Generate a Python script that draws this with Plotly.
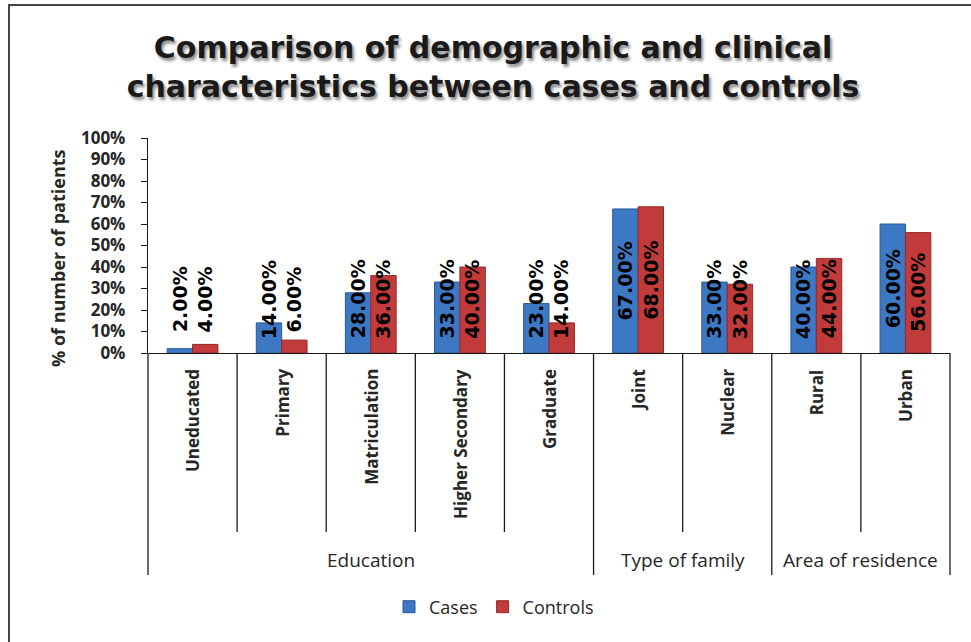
import plotly.graph_objects as go

# ---- data -------------------------------------------------------------
categories = ["Uneducated", "Primary", "Matriculation", "Higher Secondary",
              "Graduate", "Joint", "Nuclear", "Rural", "Urban"]
groups = ["Education", "Type of family", "Area of residence"]
group_sizes = [5, 2, 2]
cases = [2, 14, 28, 33, 23, 67, 33, 40, 60]
controls = [4, 6, 36, 40, 14, 68, 32, 44, 56]
y_ticks = [0, 10, 20, 30, 40, 50, 60, 70, 80, 90, 100]

# ---- layout constants --------------------------------------------------
W, H = 971, 642
ML, MR, MT, MB = 148, 21, 138, 289
PW, PH = W - ML - MR, H - MT - MB
N = len(categories)
BAR_W = 0.285
TEXT = "#262626"
LABEL_FONT = "Open Sans"


def py(px_y):
    """page pixel row -> paper y"""
    return (H - MB - px_y) / PH


def px(px_x):
    """page pixel column -> paper x"""
    return (px_x - ML) / PW


xs = list(range(N))

fig = go.Figure()
fig.add_trace(go.Bar(
    x=xs, y=cases, name="Cases", width=BAR_W, offset=-BAR_W,
    marker=dict(color="#3C78C3", line=dict(color="#2A5A96", width=1)),
))
fig.add_trace(go.Bar(
    x=xs, y=controls, name="Controls", width=BAR_W, offset=0,
    marker=dict(color="#C23B3B", line=dict(color="#962828", width=1)),
))

annotations = []

# value labels, rotated, centred on each bar but kept clear of the axis
for series, sign in ((cases, -1), (controls, 1)):
    for i, v in enumerate(series):
        annotations.append(dict(
            x=i + sign * BAR_W / 2, y=max(v / 2, 25), xref="x", yref="y",
            text=f"{v:.2f}%", textangle=-90, showarrow=False,
            xanchor="center", yanchor="middle",
            font=dict(family="DejaVu Sans", size=19, color="black", weight="bold"),
        ))

# category labels under the axis
for i, c in enumerate(categories):
    annotations.append(dict(
        x=(i + 0.5) / N, y=py(367), xref="paper", yref="paper",
        text=c, textangle=-90, showarrow=False,
        xanchor="center", yanchor="top",
        font=dict(family=LABEL_FONT, size=17, color=TEXT, weight="bold"),
    ))

# group labels and separator lines
shapes = []
start = 0
for g, n in zip(groups, group_sizes):
    annotations.append(dict(
        x=(start + n / 2) / N, y=py(560), xref="paper", yref="paper",
        text=g, showarrow=False, xanchor="center", yanchor="middle",
        font=dict(family=LABEL_FONT, size=19, color=TEXT),
    ))
    start += n

group_edges = {0}
acc = 0
for n in group_sizes:
    acc += n
    group_edges.add(acc)
for k in range(N + 1):
    y_end = py(575) if k in group_edges else py(532)
    shapes.append(dict(
        type="line", xref="paper", yref="paper",
        x0=k / N, x1=k / N, y0=0, y1=y_end,
        line=dict(color="#1a1a1a", width=1.3),
    ))

# y-axis title
annotations.append(dict(
    x=px(58), y=py(258), xref="paper", yref="paper",
    text="% of number of patients", textangle=-90, showarrow=False,
    xanchor="center", yanchor="middle",
    font=dict(family=LABEL_FONT, size=18, color=TEXT, weight="bold"),
))

# outer chart frame
shapes.append(dict(
    type="rect", xref="paper", yref="paper",
    x0=px(9), x1=px(990), y0=py(660), y1=py(5),
    line=dict(color="#444444", width=2), layer="below",
))

fig.update_layout(
    width=W, height=H,
    margin=dict(l=ML, r=MR, t=MT, b=MB),
    paper_bgcolor="white", plot_bgcolor="white",
    barmode="overlay",
    title=dict(
        text="Comparison of demographic and clinical<br>characteristics between cases and controls",
        x=493 / W, xref="container", xanchor="center",
        y=1 - 58 / H, yref="container", yanchor="middle",
        font=dict(family="DejaVu Sans", size=30, color="#1a1a1a", weight="bold",
                  shadow="2px 3px 3px rgba(0,0,0,0.45)"),
    ),
    xaxis=dict(
        range=[-0.5, N - 0.5], showticklabels=False, ticks="",
        showline=True, linecolor="#1a1a1a", linewidth=1.3,
        showgrid=False, zeroline=False, fixedrange=True,
    ),
    yaxis=dict(
        range=[0, 100], tickvals=y_ticks, ticktext=[f"{t}%" for t in y_ticks],
        ticks="outside", ticklen=6, tickcolor="#1a1a1a",
        showline=True, linecolor="#1a1a1a", linewidth=1.3,
        showgrid=False, zeroline=False, ticklabelstandoff=12,
        tickfont=dict(family=LABEL_FONT, size=17, color=TEXT, weight="bold"),
    ),
    legend=dict(
        orientation="h", x=px(494), xanchor="center", y=py(607), yanchor="middle",
        font=dict(family=LABEL_FONT, size=18, color=TEXT),
        itemwidth=30, traceorder="normal",
    ),
    annotations=annotations,
    shapes=shapes,
    showlegend=True,
)

fig.write_html("out.html")
